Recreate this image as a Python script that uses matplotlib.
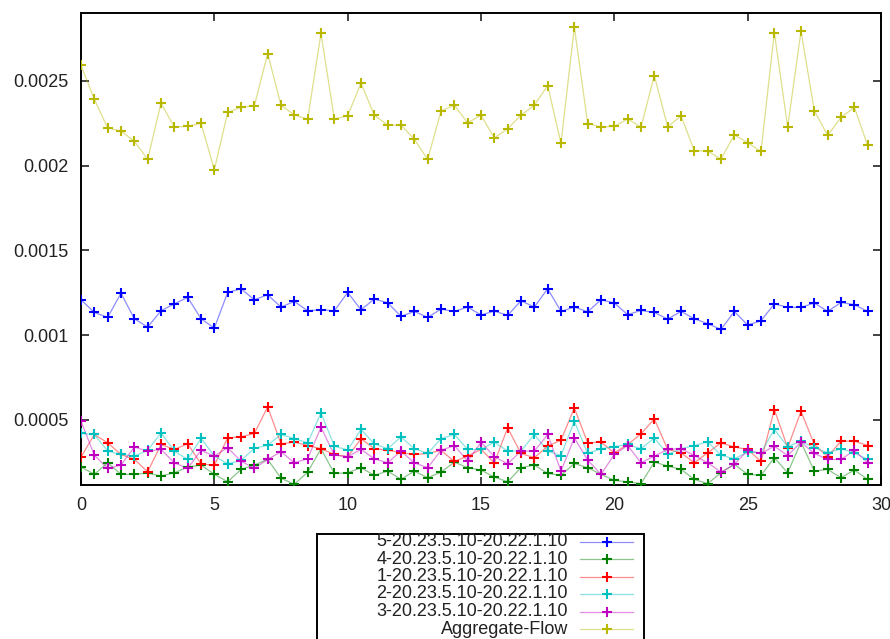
import matplotlib
matplotlib.use("Agg")
import matplotlib.pyplot as plt
from matplotlib.lines import Line2D
from matplotlib.patches import Rectangle

plt.rcParams['font.family'] = ['Liberation Sans', 'DejaVu Sans']

# sample times (s)
t = [i * 0.5 for i in range(60)]

flow5 = [0.001208, 0.001133, 0.001104, 0.001247, 0.001096, 0.001047, 0.001143, 0.001184,
         0.001222, 0.001096, 0.001041, 0.001251, 0.001273, 0.001208, 0.001237, 0.001165,
         0.001198, 0.001143, 0.001149, 0.001143, 0.001251, 0.001149, 0.001212, 0.001190,
         0.001110, 0.001139, 0.001104, 0.001153, 0.001139, 0.001165, 0.001118, 0.001141,
         0.001116, 0.001202, 0.001165, 0.001273, 0.001139, 0.001165, 0.001137, 0.001208,
         0.001189, 0.001120, 0.001145, 0.001133, 0.001094, 0.001139, 0.001096, 0.001067,
         0.001033, 0.001139, 0.001059, 0.001084, 0.001184, 0.001163, 0.001163, 0.001189,
         0.001139, 0.001192, 0.001179, 0.001139]

flow4 = [0.000221, 0.000178, 0.000246, 0.000178, 0.000178, 0.000185, 0.000168, 0.000187,
         0.000221, 0.000233, 0.000178, 0.000134, 0.000207, 0.000233, 0.000266, 0.000155,
         0.000119, 0.000191, 0.000329, 0.000183, 0.000187, 0.000217, 0.000172, 0.000197,
         0.000148, 0.000197, 0.000158, 0.000191, 0.000250, 0.000217, 0.000203, 0.000162,
         0.000134, 0.000217, 0.000233, 0.000183, 0.000172, 0.000242, 0.000217, 0.000178,
         0.000142, 0.000134, 0.000123, 0.000250, 0.000227, 0.000207, 0.000148, 0.000123,
         0.000187, 0.000237, 0.000178, 0.000172, 0.000276, 0.000187, 0.000368, 0.000197,
         0.000207, 0.000158, 0.000203, 0.000148]

flow1 = [0.000280, 0.000413, 0.000364, 0.000295, 0.000266, 0.000193, 0.000354, 0.000325,
         0.000358, 0.000240, 0.000231, 0.000393, 0.000399, 0.000419, 0.000576, 0.000358,
         0.000368, 0.000348, 0.000329, 0.000295, 0.000282, 0.000388, 0.000329, 0.000321,
         0.000305, 0.000295, 0.000301, 0.000319, 0.000254, 0.000286, 0.000325, 0.000246,
         0.000452, 0.000301, 0.000276, 0.000344, 0.000380, 0.000570, 0.000364, 0.000368,
         0.000305, 0.000354, 0.000417, 0.000505, 0.000325, 0.000305, 0.000246, 0.000305,
         0.000364, 0.000339, 0.000325, 0.000254, 0.000560, 0.000335, 0.000550, 0.000354,
         0.000282, 0.000374, 0.000374, 0.000348]

flow2 = [0.000419, 0.000413, 0.000315, 0.000295, 0.000286, 0.000319, 0.000423, 0.000315,
         0.000266, 0.000390, 0.000286, 0.000240, 0.000260, 0.000331, 0.000350, 0.000413,
         0.000388, 0.000364, 0.000541, 0.000344, 0.000321, 0.000443, 0.000358, 0.000329,
         0.000399, 0.000329, 0.000301, 0.000388, 0.000413, 0.000325, 0.000325, 0.000368,
         0.000315, 0.000315, 0.000413, 0.000315, 0.000289, 0.000492, 0.000301, 0.000329,
         0.000341, 0.000354, 0.000329, 0.000393, 0.000295, 0.000329, 0.000348, 0.000370,
         0.000291, 0.000270, 0.000309, 0.000305, 0.000443, 0.000341, 0.000374, 0.000335,
         0.000305, 0.000329, 0.000305, 0.000266]

flow3 = [0.000492, 0.000291, 0.000213, 0.000233, 0.000339, 0.000315, 0.000325, 0.000246,
         0.000213, 0.000319, 0.000286, 0.000335, 0.000256, 0.000213, 0.000266, 0.000311,
         0.000246, 0.000270, 0.000456, 0.000291, 0.000282, 0.000325, 0.000270, 0.000246,
         0.000315, 0.000246, 0.000217, 0.000319, 0.000348, 0.000256, 0.000368, 0.000282,
         0.000240, 0.000315, 0.000315, 0.000413, 0.000197, 0.000393, 0.000262, 0.000178,
         0.000295, 0.000348, 0.000246, 0.000286, 0.000325, 0.000329, 0.000289, 0.000246,
         0.000191, 0.000237, 0.000319, 0.000301, 0.000344, 0.000289, 0.000368, 0.000301,
         0.000266, 0.000266, 0.000319, 0.000246]

aggregate = [0.002592, 0.002391, 0.002222, 0.002203, 0.002144, 0.002036, 0.002368, 0.002227,
             0.002231, 0.002250, 0.001975, 0.002313, 0.002344, 0.002352, 0.002661, 0.002356,
             0.002299, 0.002274, 0.002780, 0.002274, 0.002293, 0.002486, 0.002297, 0.002238,
             0.002238, 0.002156, 0.002036, 0.002321, 0.002356, 0.002252, 0.002297, 0.002162,
             0.002217, 0.002297, 0.002356, 0.002472, 0.002131, 0.002817, 0.002248, 0.002227,
             0.002231, 0.002275, 0.002227, 0.002531, 0.002228, 0.002293, 0.002087, 0.002085,
             0.002038, 0.002181, 0.002134, 0.002083, 0.002784, 0.002227, 0.002794, 0.002323,
             0.002178, 0.002284, 0.002344, 0.002119]

labels = ["5-20.23.5.10-20.22.1.10", "4-20.23.5.10-20.22.1.10", "1-20.23.5.10-20.22.1.10",
          "2-20.23.5.10-20.22.1.10", "3-20.23.5.10-20.22.1.10", "Aggregate-Flow"]
series = [flow5, flow4, flow1, flow2, flow3, aggregate]
colors = ["#0000ff", "#008000", "#ff0000", "#00c0c0", "#c000c0", "#b8b800"]

xticks = [0, 5, 10, 15, 20, 25, 30]
yticks = [0.0005, 0.001, 0.0015, 0.002, 0.0025]
ytick_labels = ["0.0005", "0.001", "0.0015", "0.002", "0.0025"]

W, H = 890, 639
fig = plt.figure(figsize=(W / 100, H / 100), dpi=100)
ax = fig.add_axes([81 / W, 1 - 485 / H, 800 / W, 472 / H])

for vals, col in zip(series, colors):
    ax.plot(t, vals, color=col, lw=0.9, alpha=0.45, zorder=2)
    ax.plot(t, vals, ls="none", marker="+", ms=7.5, mew=1.5, color=col, zorder=3)

ax.set_xlim(0, 30)
ax.set_ylim(0.000115, 0.0029)
ax.set_xticks(xticks)
ax.set_yticks(yticks)
ax.set_yticklabels(ytick_labels)
ax.tick_params(direction="in", length=6, width=1.2, top=True, right=True,
               labelsize=13, colors="#222222", pad=9)
for s in ax.spines.values():
    s.set_linewidth(1.4)
    s.set_color("black")

# key box below the plot
fig.add_artist(Rectangle((317 / W, 1 - 680 / H), 327 / W, 146 / H,
                         transform=fig.transFigure, fill=False, ec="black", lw=1.4))
row_y = [541.5, 559, 576.5, 594, 611.5, 629]
for lab, col, yy in zip(labels, colors, row_y):
    fy = 1 - yy / H
    fig.text(568 / W, fy, lab, ha="right", va="center", fontsize=13, color="#222222")
    fig.add_artist(Line2D([580 / W, 633 / W], [fy, fy], transform=fig.transFigure,
                          color=col, lw=0.9, alpha=0.45))
    fig.add_artist(Line2D([606.5 / W], [fy], transform=fig.transFigure, ls="none",
                          marker="+", ms=7.5, mew=1.5, color=col))

fig.savefig("out.png", dpi=100)
